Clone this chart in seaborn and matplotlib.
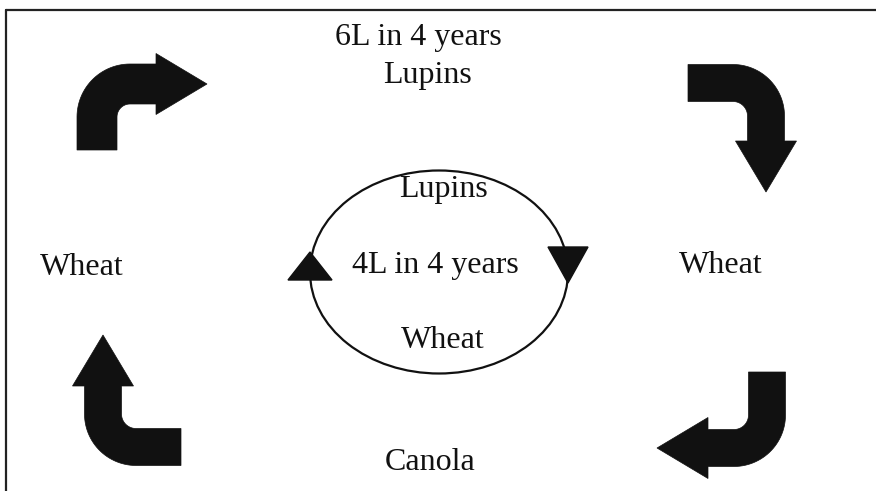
import numpy as np
import matplotlib
matplotlib.use("Agg")
import matplotlib.pyplot as plt
from matplotlib.patches import Polygon, Ellipse
import seaborn as sns

# text in the diagram (outer 6-year rotation, inner 4-year rotation)
labels = ["6L in 4 years", "Lupins", "Wheat", "Wheat", "Canola",
          "Lupins", "4L in 4 years", "Wheat"]
label_x = [418, 427, 82, 721, 430, 444, 435, 443]
label_y = [45, 83, 275, 273, 470, 197, 273, 348]

# big bent arrows: tail point, corner, tip (pixel coords, y down)
arrow_tail = [(97, 150), (688, 83), (767, 372), (181, 447)]
arrow_corner = [(97, 84), (766, 83), (767, 448), (103, 447)]
arrow_tip = [(207, 84), (766, 192), (657, 448), (103, 335)]
arrow_width = [40, 37, 37, 37]

W, H = 876, 491

sns.set_theme(style="white")
plt.rcParams['font.family'] = ['Liberation Serif', 'DejaVu Serif']


def bent_arrow(S, C, T, w, r=33, hw=30.5, hl=51, n=30):
    S, C, T = np.array(S, float), np.array(C, float), np.array(T, float)
    d1 = (C - S) / np.linalg.norm(C - S)
    d2 = (T - C) / np.linalg.norm(T - C)
    O = C - d1 * r + d2 * r
    th = np.linspace(0, np.pi / 2, n)
    arc = lambda rad: [O + rad * (np.cos(t) * -d2 + np.sin(t) * d1) for t in th]
    B = T - d2 * hl
    pts = [S + d2 * w / 2]
    pts += arc(r - w / 2)
    pts += [B - d1 * w / 2, B - d1 * hw, T, B + d1 * hw, B + d1 * w / 2]
    pts += arc(r + w / 2)[::-1]
    pts += [S - d2 * w / 2]
    return np.array(pts)


fig = plt.figure(figsize=(W / 100, H / 100), dpi=100)
ax = fig.add_axes([0, 0, 1, 1])
ax.set_xlim(0, W)
ax.set_ylim(H, 0)
ax.axis("off")

# frame (top and left edges survive in the scan)
ax.plot([6, W], [10, 10], color="#222222", lw=1.6)
ax.plot([6, 6], [10, H], color="#222222", lw=1.6)

for S, C, T, w in zip(arrow_tail, arrow_corner, arrow_tip, arrow_width):
    ax.add_patch(Polygon(bent_arrow(S, C, T, w), closed=True,
                         facecolor="#111111", edgecolor="#111111", lw=0.5))

# inner cycle
ax.add_patch(Ellipse((439, 272), 258, 203, fill=False, edgecolor="#111111", lw=1.6))
ax.add_patch(Polygon([(288, 280), (332, 280), (310, 252)], closed=True,
                     facecolor="#111111", edgecolor="#111111"))
ax.add_patch(Polygon([(548, 247), (588, 247), (568, 283)], closed=True,
                     facecolor="#111111", edgecolor="#111111"))

for txt, x, y in zip(labels, label_x, label_y):
    ax.text(x, y, txt, ha="center", va="baseline", fontsize=23, color="#111111")

fig.savefig("out.png", dpi=100)
